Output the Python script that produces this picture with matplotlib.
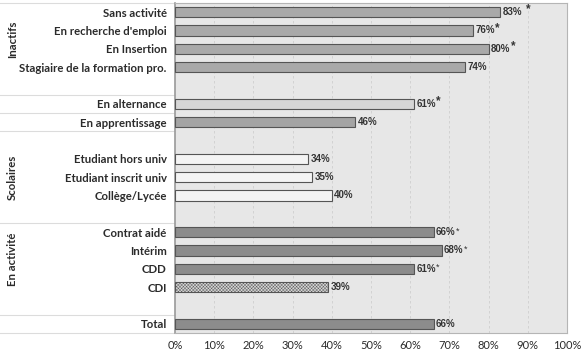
import numpy as np
import matplotlib
matplotlib.use("Agg")
import matplotlib.pyplot as plt
from matplotlib.transforms import blended_transform_factory

# ── Data (row order top → bottom, None = empty spacer row) ──
labels = ["Sans activité", "En recherche d'emploi", "En Insertion",
          "Stagiaire de la formation pro.", None,
          "En alternance", "En apprentissage", None,
          "Etudiant hors univ", "Etudiant inscrit univ", "Collège/Lycée", None,
          "Contrat aidé", "Intérim", "CDD", "CDI", None,
          "Total"]
values = [83, 76, 80, 74, None,
          61, 46, None,
          34, 35, 40, None,
          66, 68, 61, 39, None,
          66]
stars = ["spaced", "big", "big", "", None,
         "big", "", None,
         "", "", "", None,
         "small", "small", "small", "", None,
         ""]
colors = ["#a9a9a9", "#a9a9a9", "#a9a9a9", "#a9a9a9", None,
          "#d6d6d6", "#a4a4a4", None,
          "#f4f4f4", "#f4f4f4", "#f4f4f4", None,
          "#8c8c8c", "#8c8c8c", "#8c8c8c", "#d4d4d4", None,
          "#8c8c8c"]
hatches = [""] * 15 + ["xxxxxxxxxx", None, ""]

groups = ["Inactifs", "Scolaires", "En activité"]
group_centers = [1.5, 9.0, 13.5]
separators = [-0.5, 4.5, 5.5, 6.5, 11.5, 16.5, 17.5]
xticks = np.arange(0, 101, 10)

LABEL_FONT = "Lato"
TEXT_COL = "#2b2b2b"
plt.rcParams["hatch.linewidth"] = 0.3
plt.rcParams["hatch.color"] = "#6a6a6a"

fig = plt.figure(figsize=(5.84, 3.52), dpi=100)
ax = fig.add_axes([0.2997, 0.054, 0.6713, 0.9375])
ax.set_facecolor("#e7e7e7")

for i, (lab, v) in enumerate(zip(labels, values)):
    if v is None:
        continue
    ax.barh(i, v, height=0.55, color=colors[i], edgecolor="#555555",
            lw=0.8, hatch=hatches[i], zorder=3)
    t = ax.text(v + 0.6, i, f"{v}%", va="center", ha="left",
                fontsize=7, fontweight="bold", color="#333333",
                family="Liberation Sans", zorder=4)
    if stars[i] in ("big", "spaced"):
        dx = 3.0 if stars[i] == "spaced" else 0.3
        ax.annotate("*", xy=(1, 1), xycoords=t, xytext=(dx, 2.6),
                    textcoords="offset points", fontsize=8.5,
                    fontweight="bold", color="#333333", va="top",
                    family="Liberation Sans")
    elif stars[i] == "small":
        ax.annotate("*", xy=(1, 1), xycoords=t, xytext=(0.2, 0.6),
                    textcoords="offset points", fontsize=6.5,
                    color="#333333", va="top", family="Liberation Sans")

ax.set_xlim(0, 100)
ax.set_ylim(17.5, -0.5)
ax.set_xticks(xticks)
ax.set_xticklabels([f"{x}%" for x in xticks], family=LABEL_FONT,
                   fontsize=8, color=TEXT_COL)
yrows = [i for i, l in enumerate(labels) if l is not None]
ax.set_yticks(yrows)
ax.set_yticklabels([labels[i] for i in yrows], family=LABEL_FONT,
                   fontsize=8.2, fontweight="bold", color=TEXT_COL)
ax.tick_params(length=0, pad=6)
ax.tick_params(axis="x", pad=5)

for x in xticks[1:-1]:
    ax.axvline(x, color="#cfcfcf", lw=0.6, ls=(0, (3, 3)), zorder=1)

for s in ["top", "right", "bottom"]:
    ax.spines[s].set_color("#b5b5b5")
    ax.spines[s].set_linewidth(0.8)
ax.spines["left"].set_color("#9a9a9a")
ax.spines["left"].set_linewidth(1.2)

# separators in the label area
tr = blended_transform_factory(fig.transFigure, ax.transData)
for y in separators:
    ax.plot([0, 0.2997], [y, y], transform=tr, color="#dcdcdc", lw=0.8,
            clip_on=False)

for g, yc in zip(groups, group_centers):
    ax.text(0.021, yc, g, transform=tr, rotation=90, ha="center",
            va="center", family=LABEL_FONT, fontsize=8.2, fontweight="bold",
            color=TEXT_COL)

fig.savefig("out.png", dpi=100)
